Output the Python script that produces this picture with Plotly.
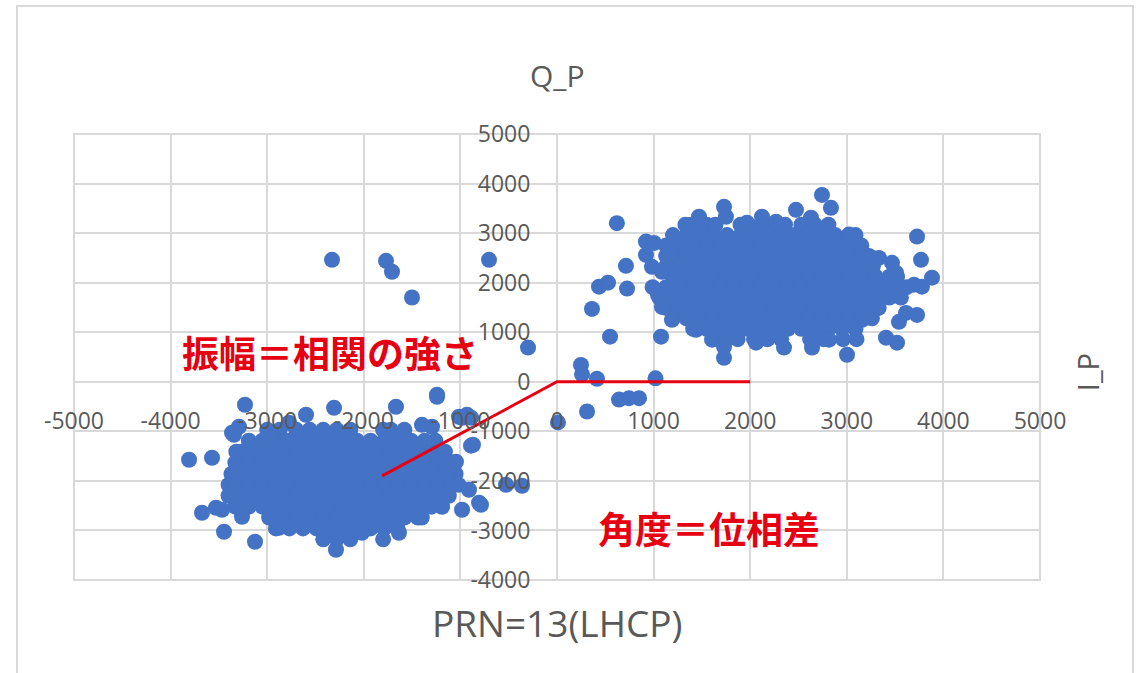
import plotly.graph_objects as go

# ---------------- data (I_P, Q_P) ----------------
# dense cores written row by row: (Q value, list of I values)
right_core_rows = [
    (3170, [1330, 1410, 1550, 1640, 1900, 1970, 2110, 2250, 2360, 2530, 2670, 2810]),
    (2960, [1200, 1340, 1480, 1620, 1760, 1900, 2040, 2180, 2320, 2460, 2600, 2740, 2880, 3020, 3090]),
    (2750, [1130, 1270, 1410, 1550, 1690, 1830, 1970, 2110, 2250, 2390, 2530, 2670, 2810, 2950, 3090, 3150]),
    (2540, [1130, 1200, 1340, 1480, 1620, 1760, 1900, 2040, 2180, 2320, 2460, 2600, 2740, 2880, 3020, 3160, 3230]),
    (2330, [1130, 1270, 1410, 1550, 1690, 1830, 1970, 2110, 2250, 2390, 2530, 2670, 2810, 2950, 3090, 3230, 3270]),
    (2120, [1200, 1340, 1480, 1620, 1760, 1900, 2040, 2180, 2320, 2460, 2600, 2740, 2880, 3020, 3160, 3300, 3440, 3520]),
    (1910, [990, 1130, 1270, 1410, 1550, 1690, 1830, 1970, 2110, 2250, 2390, 2530, 2670, 2810, 2950, 3090, 3230, 3370, 3510, 3620]),
    (1700, [1060, 1200, 1340, 1480, 1620, 1760, 1900, 2040, 2180, 2320, 2460, 2600, 2740, 2880, 3020, 3160, 3300, 3440, 3560]),
    (1490, [1130, 1270, 1410, 1550, 1690, 1830, 1970, 2110, 2250, 2390, 2530, 2670, 2810, 2950, 3090, 3230, 3330]),
    (1280, [1200, 1340, 1480, 1620, 1760, 1900, 2040, 2180, 2320, 2460, 2600, 2740, 2880, 3020, 3160, 3260]),
    (1070, [1410, 1550, 1690, 1830, 1970, 2110, 2250, 2390, 2530, 2670, 2810, 2950, 3090]),
    (860, [1620, 1760, 1870, 2040, 2180, 2320, 2620, 2760, 2960, 3100]),
]

left_core_rows = [
    (-970, [-3000, -2870, -2700, -2560, -2420, -2280, -2140, -1800, -1720, -1580]),
    (-1190, [-3190, -3050, -2910, -2770, -2630, -2490, -2350, -2210, -2070, -1930, -1790, -1650, -1510, -1370, -1260]),
    (-1410, [-3320, -3260, -3120, -2980, -2840, -2700, -2560, -2420, -2280, -2140, -2000, -1860, -1720, -1580, -1440, -1300, -1160]),
    (-1630, [-3330, -3190, -3050, -2910, -2770, -2630, -2490, -2350, -2210, -2070, -1930, -1790, -1650, -1510, -1370, -1230, -1150]),
    (-1860, [-3370, -3260, -3120, -2980, -2840, -2700, -2560, -2420, -2280, -2140, -2000, -1860, -1720, -1580, -1440, -1300, -1160, -1050]),
    (-2080, [-3400, -3330, -3190, -3050, -2910, -2770, -2630, -2490, -2350, -2210, -2070, -1930, -1790, -1650, -1510, -1370, -1230, -1090, -1020]),
    (-2300, [-3400, -3260, -3120, -2980, -2840, -2700, -2560, -2420, -2280, -2140, -2000, -1860, -1720, -1580, -1440, -1300, -1160, -1120]),
    (-2520, [-3330, -3190, -3050, -2910, -2770, -2630, -2490, -2350, -2210, -2070, -1930, -1790, -1650, -1510, -1370, -1300]),
    (-2740, [-2980, -2840, -2700, -2560, -2420, -2280, -2140, -2000, -1860, -1720, -1580, -1440, -1400]),
    (-2960, [-2910, -2770, -2630, -2490, -2350, -2210, -2070, -1930, -1790, -1650]),
    (-3180, [-2420, -2280, -2140, -1800]),
]

# scattered points (I_P)
outlier_i = [
    620, 714, 725, 435, 528, 362, 549, 248, 259, 414, 311, 642, 745, 849, 1020, 1077, 10,
    921, 1004, 921, 983, 1087, 1045, 1087, 1190, 1439, 1605, 1729, 1729, 2060, 2350, 2640,
    3002, 2816, 3406, 3520, 3727, 3613, 3540, 3157, 3261, 3333, 3468, 3509, 3882, 3778,
    3696, 3727, 3768, 3023, 2743, 2836, 2474, 2629, 2267, 1967, 2122, 1729, 1749, 1470, 1387,
    -2329, -1770, -1708, -1501, -704, -300, -1242, -1014, -932, -983, -890, -870, -890,
    -1087, -528, -362, -807, -983, -787, -3809, -3571, -3675, -3530, -3468, -3447, -3126,
    -3261, -3230, -3292, -3364, -3344, -2950, -2288, -2308, -1667, -1242, -2598, -2774,
    -1398, -1294, -1046, -1149, -911, -1190, -2019, -1636, -2878,
]
# scattered points (Q_P)
outlier_q = [
    3200, 2340, 1880, 1920, 2000, 1470, 910, 340, 150, 60, -600, -360, -330, -330, 70, 910, -820,
    2830, 2800, 2560, 2320, 2220, 1760, 1510, 1250, 1050, 850, 706, 484, 790, 690, 690,
    545, 850, 890, 790, 1350, 1390, 1210, 1250, 1390, 2500, 2400, 2200, 2100, 1920,
    1960, 2930, 2460, 2970, 3770, 3510, 3470, 3310, 3230, 3210, 3330, 3530, 3330, 3330, 3170,
    2460, 2440, 2220, 1700, 2460, 690, -260, -706, -666, -726, -726, -1271, -1290,
    -1634, -2078, -2098, -2441, -2583, -2482, -1574, -1533, -2643, -2542, -2583, -3027, -3228,
    -2724, -464, -908, -1029, -1069, -1069, -3390, -525, -504, -303, -666, -827,
    -868, -908, -1614, -1877, -2179, -2522, -3047, -3047, -2946,
]

# red guide line (amplitude / phase) in data units
guide_i = [2000, 0, -1810]
guide_q = [0, 0, -1900]

x_ticks = [-5000, -4000, -3000, -2000, -1000, 0, 1000, 2000, 3000, 4000, 5000]
y_ticks = [-4000, -3000, -2000, -1000, 0, 1000, 2000, 3000, 4000, 5000]

# ---------------- assemble ----------------
i_p, q_p = [], []
for q, row in right_core_rows + left_core_rows:
    for i in row:
        i_p.append(i)
        q_p.append(q)
i_p += outlier_i
q_p += outlier_q

BLUE = "#4472C4"
RED = "#E60012"
GRID = "#d9d9d9"
TXT = "#595959"

fig = go.Figure()
fig.add_trace(go.Scatter(
    x=i_p, y=q_p, mode="markers",
    marker=dict(color=BLUE, size=16, line=dict(width=0)),
    showlegend=False, hoverinfo="skip",
))
fig.add_trace(go.Scatter(
    x=guide_i, y=guide_q, mode="lines",
    line=dict(color=RED, width=3),
    showlegend=False, hoverinfo="skip",
))

tickfont = dict(family="Open Sans", size=23, color=TXT)
fig.update_xaxes(
    range=[-5000, 5000], tickvals=x_ticks, ticktext=[str(v) for v in x_ticks],
    showgrid=True, gridcolor=GRID, gridwidth=2,
    zeroline=True, zerolinecolor=GRID, zerolinewidth=2,
    showline=False, anchor="free", position=4 / 9,
    ticks="outside", ticklen=19, tickcolor="rgba(0,0,0,0)",
    tickfont=tickfont, fixedrange=True,
)
fig.update_yaxes(
    range=[-4000, 5000], tickvals=y_ticks, ticktext=[str(v) for v in y_ticks],
    showgrid=True, gridcolor=GRID, gridwidth=2,
    zeroline=True, zerolinecolor=GRID, zerolinewidth=2,
    showline=False, anchor="free", position=0.5,
    ticks="outside", ticklen=22, tickcolor="rgba(0,0,0,0)",
    tickfont=tickfont, fixedrange=True,
)

shapes = [
    dict(type="rect", xref="paper", yref="paper", x0=0, x1=1, y0=0, y1=1,
         line=dict(color=GRID, width=2), layer="below"),
    dict(type="rect", xref="paper", yref="paper", x0=-0.059, x1=1.0963, y0=-0.25, y1=1.287,
         line=dict(color=GRID, width=2), layer="below"),
]

annotations = [
    dict(text="Q_P", xref="paper", yref="paper", x=0.5, y=1.132, showarrow=False,
         font=dict(family="Open Sans", size=30, color=TXT), xanchor="center", yanchor="middle"),
    dict(text="I_P", xref="paper", yref="paper", x=1.0487, y=0.466, showarrow=False,
         textangle=-90, font=dict(family="Open Sans", size=29, color=TXT),
         xanchor="center", yanchor="middle"),
    dict(text="PRN=13(LHCP)", xref="paper", yref="paper", x=0.5, y=-0.096, showarrow=False,
         font=dict(family="Open Sans", size=37, color=TXT), xanchor="center", yanchor="middle"),
    dict(text="<b>振幅＝相関の強さ</b>", xref="x", yref="y", x=-3900, y=605, showarrow=False,
         font=dict(family="Noto Sans CJK JP", size=37, color=RED), xanchor="left", yanchor="middle"),
    dict(text="<b>角度＝位相差</b>", xref="x", yref="y", x=404, y=-2946, showarrow=False,
         font=dict(family="Noto Sans CJK JP", size=37, color=RED), xanchor="left", yanchor="middle"),
]

fig.update_layout(
    width=1143, height=673,
    margin=dict(l=74, r=103, t=134, b=93, pad=0),
    paper_bgcolor="white", plot_bgcolor="white",
    shapes=shapes, annotations=annotations,
    showlegend=False,
)

fig.write_html("out.html", include_plotlyjs=True, config={"displayModeBar": False},
               post_script="document.body.style.margin='0';document.body.style.overflow='hidden';")
